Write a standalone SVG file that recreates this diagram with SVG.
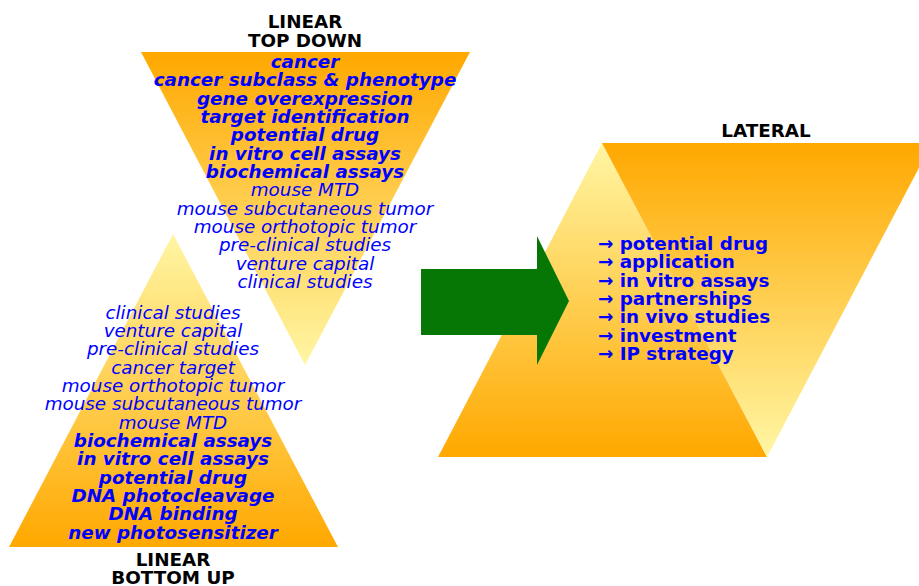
<svg xmlns="http://www.w3.org/2000/svg" width="919" height="586" viewBox="0 0 919 586">
<defs>
<linearGradient id="gDown" x1="0" y1="0" x2="0" y2="1">
<stop offset="0" stop-color="#ffa800"/>
<stop offset="1" stop-color="#fff6a4"/>
</linearGradient>
<linearGradient id="gUp" x1="0" y1="0" x2="0" y2="1">
<stop offset="0" stop-color="#fff6a4"/>
<stop offset="1" stop-color="#ffa800"/>
</linearGradient>
<style>
text{font-family:"DejaVu Sans","Noto Sans",sans-serif;font-size:18.33px}
.t{font-weight:bold;fill:#000;text-anchor:middle}
.c{text-anchor:middle;fill:#0000ff;font-style:italic}
.b{font-weight:bold}
.l{fill:#0000ff;font-weight:bold}
</style>
</defs>
<rect width="919" height="586" fill="#fff"/>
<g id="top-down">
<polygon points="141,52 470,52 305,365" fill="url(#gDown)"/>
<text class="t" x="305" y="28.3">LINEAR</text>
<text class="t" x="305" y="46.6">TOP DOWN</text>
<text class="c b" x="305" y="68">cancer</text>
<text class="c b" x="305" y="86.3">cancer subclass &amp; phenotype</text>
<text class="c b" x="305" y="104.7">gene overexpression</text>
<text class="c b" x="305" y="123">target identification</text>
<text class="c b" x="305" y="141.3">potential drug</text>
<text class="c b" x="305" y="159.7">in vitro cell assays</text>
<text class="c b" x="305" y="178">biochemical assays</text>
<text class="c" x="305" y="196.3">mouse MTD</text>
<text class="c" x="305" y="214.7">mouse subcutaneous tumor</text>
<text class="c" x="305" y="233">mouse orthotopic tumor</text>
<text class="c" x="305" y="251.3">pre-clinical studies</text>
<text class="c" x="305" y="269.7">venture capital</text>
<text class="c" x="305" y="288">clinical studies</text>
</g>
<g id="bottom-up">
<polygon points="173,234 338,547 9,547" fill="url(#gUp)"/>
<text class="c" x="173" y="318.5">clinical studies</text>
<text class="c" x="173" y="336.8">venture capital</text>
<text class="c" x="173" y="355.2">pre-clinical studies</text>
<text class="c" x="173" y="373.5">cancer target</text>
<text class="c" x="173" y="391.8">mouse orthotopic tumor</text>
<text class="c" x="173" y="410.2">mouse subcutaneous tumor</text>
<text class="c" x="173" y="428.5">mouse MTD</text>
<text class="c b" x="173" y="446.8">biochemical assays</text>
<text class="c b" x="173" y="465.2">in vitro cell assays</text>
<text class="c b" x="173" y="483.5">potential drug</text>
<text class="c b" x="173" y="501.8">DNA photocleavage</text>
<text class="c b" x="173" y="520.2">DNA binding</text>
<text class="c b" x="173" y="538.5">new photosensitizer</text>
<text class="t" x="173" y="566">LINEAR</text>
<text class="t" x="173" y="584.3">BOTTOM UP</text>
</g>
<g id="lateral">
<polygon points="602,143 767,457 438,457" fill="url(#gUp)"/>
<polygon points="602,143 932,143 767,457" fill="url(#gDown)"/>
<text class="t" x="766" y="137.3">LATERAL</text>
<text class="l" x="598" y="250">→ potential drug</text>
<text class="l" x="598" y="268.3">→ application</text>
<text class="l" x="598" y="286.7">→ in vitro assays</text>
<text class="l" x="598" y="305">→ partnerships</text>
<text class="l" x="598" y="323.3">→ in vivo studies</text>
<text class="l" x="598" y="341.7">→ investment</text>
<text class="l" x="598" y="360">→ IP strategy</text>
</g>
<g id="connectors">
<polygon points="421,269 537,269 537,236 569,301 537,365 537,335 421,335" fill="#067704"/>
</g>
</svg>
